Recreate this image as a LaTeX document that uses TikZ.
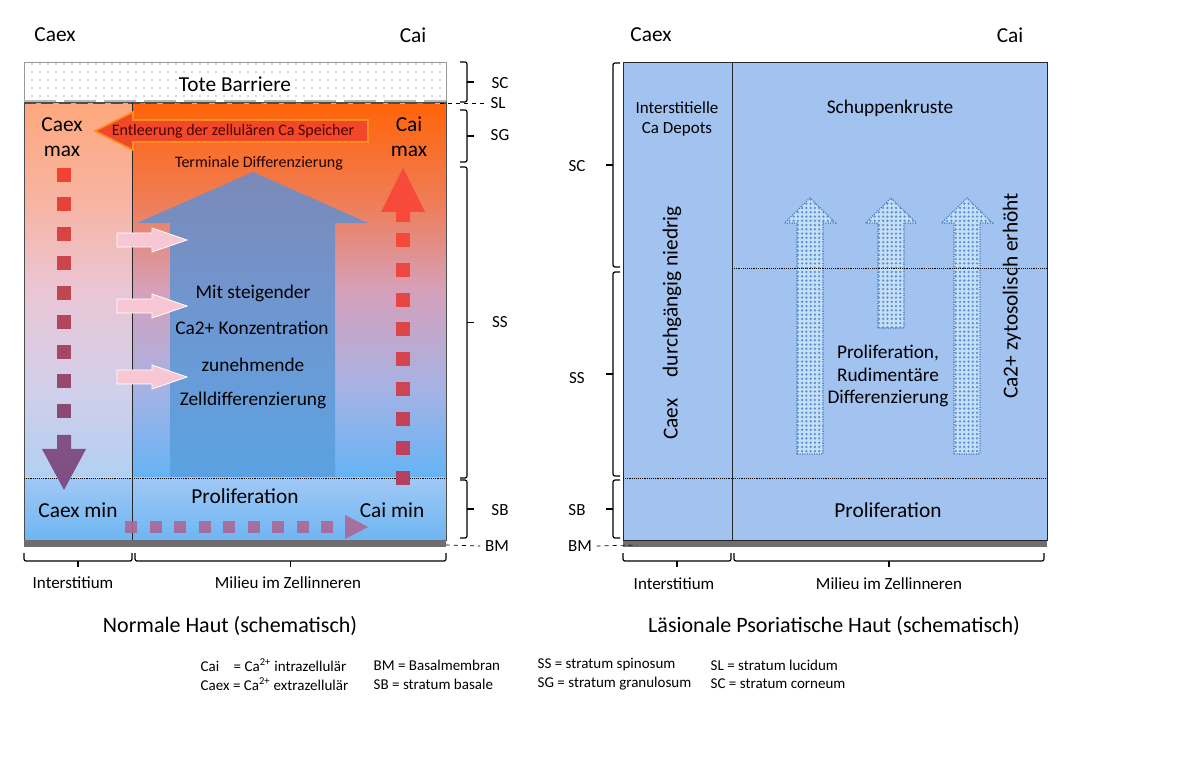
\documentclass[tikz,border=0pt]{standalone}
\usepackage{fontspec}
\setmainfont{Carlito}
\usetikzlibrary{patterns.meta, positioning, calc}

\definecolor{orangetop}{RGB}{255,100,8}
\definecolor{coral}{RGB}{240,124,84}
\definecolor{pinkmid}{RGB}{214,160,186}
\definecolor{lavender}{RGB}{166,178,228}
\definecolor{bluebot}{RGB}{100,180,246}
\definecolor{sbtop}{RGB}{160,200,246}
\definecolor{sbbot}{RGB}{110,182,242}
\definecolor{arrowtop}{RGB}{110,140,198}
\definecolor{arrowbot}{RGB}{90,160,224}
\definecolor{redarrow}{RGB}{240,72,40}
\definecolor{redrim}{RGB}{255,140,30}
\definecolor{sqtop}{RGB}{242,66,48}
\definecolor{sqbot}{RGB}{126,74,128}
\definecolor{rsqtop}{RGB}{248,74,58}
\definecolor{rsqbot}{RGB}{180,64,96}
\definecolor{mauve}{RGB}{170,104,152}
\definecolor{pinkarrow}{RGB}{247,200,212}
\definecolor{paleveil}{RGB}{255,236,240}
\definecolor{bmgray}{RGB}{112,108,114}
\definecolor{lesion}{RGB}{162,195,240}
\definecolor{dotfill}{RGB}{196,224,248}
\definecolor{dotblue}{RGB}{56,112,190}

\pgfdeclareverticalshading{skin}{100bp}{color(0bp)=(bluebot); color(25bp)=(bluebot);
  color(37bp)=(lavender); color(50bp)=(pinkmid); color(62bp)=(coral); color(75bp)=(orangetop); color(100bp)=(orangetop)}

\newcommand{\sizeA}{\fontsize{16}{19}\selectfont}
\newcommand{\sizeB}{\fontsize{14.5}{17}\selectfont}
\newcommand{\sizeC}{\fontsize{12.75}{15}\selectfont}
\newcommand{\sizeD}{\fontsize{12}{14}\selectfont}
\newcommand{\sizeE}{\fontsize{16.5}{19}\selectfont}
\newcommand{\sizeF}{\fontsize{11.25}{13}\selectfont}

\tikzset{
  bracket/.style={line width=0.9pt, rounded corners=1.5pt},
  pinkarr/.style={fill=pinkarrow, draw=white, line width=0.6pt},
  dotarrow/.style={fill=dotfill, draw=dotblue, densely dotted, line width=0.8pt,
    postaction={pattern={Dots[distance=3.2pt,radius=0.95pt]}, pattern color=dotblue!80}}
}

\begin{document}
\begin{tikzpicture}[x=0.75pt, y=-0.75pt]
    \useasboundingbox (0,0) rectangle (1183,784);

    % Normal skin: background layers
    \shade[shading=skin] (24,102) rectangle (446,478);
    \shade[top color=sbtop, bottom color=sbbot] (24,478) rectangle (446,540);
    \fill[paleveil, opacity=0.5] (24,102) rectangle (132,478);

    % Dead barrier on top
    \fill[white] (24,62) rectangle (446,102);
    \fill[pattern={Dots[distance=6pt,radius=0.7pt]}, pattern color=gray!60] (24,62) rectangle (446,102);
    \draw[gray!80] (24,62) rectangle (446,102);
    \node[font=\sizeA, fill=white, inner sep=1pt] (tote) at (235,84) {Tote Barriere};
    \draw[gray!55, line width=3pt, dash pattern=on 24pt off 6pt] (24,102) -- (446,102);
    \draw[black!70, line width=0.5pt, dash pattern=on 9pt off 4pt] (24,103) -- (446,103);

    % Outlines and layer border
    \draw[black!70, line width=0.6pt] (24,102) rectangle (446,540);
    \draw[black!85, line width=0.6pt] (132,102) -- (132,540) -- (24,540);
    \draw[densely dotted] (24,478) -- (446,478);

    % Big differentiation arrow
    \shade[top color=arrowtop, bottom color=arrowbot, opacity=0.9] (170,477) -- (170,223) -- (137,223) -- (253,172) -- (368,223) -- (335,223) -- (335,477) -- cycle;
    \node[font=\sizeB] (mit) at (253,293) {Mit steigender};
    \node[font=\sizeB] (konz) at (252,328) {Ca2+ Konzentration};
    \node[font=\sizeB] (zun) at (253,365) {zunehmende};
    \node[font=\sizeB] (zell) at (253,400) {Zelldifferenzierung};

    % Emptying of the calcium stores
    \draw[draw=redrim, fill=redarrow, line width=1.2pt] (368,120) -- (133,120) -- (133,112) -- (95,131) -- (133,150) -- (133,142) -- (368,142) -- cycle;
    \node[font=\sizeD, text=black!70!red] (entl) at (233,131) {Entleerung der zellulären Ca Speicher};
    \node[font=\sizeD, text=black!85!red] (term) at (259,163) {Terminale Differenzierung};

    \node[font=\sizeA, align=center] (caexmax) at (62,137) {Caex\\max};
    \node[font=\sizeA, align=center] (caimax) at (409,137) {Cai\\max};

    % Caex falls towards the basal layer
    \foreach \i in {0,...,8} {
        \pgfmathtruncatemacro\p{\i*11}
        \fill[sqbot!\p!sqtop] (57,175+\i*29.5-7) rectangle (71,175+\i*29.5+7);
    }
    \fill[sqbot, opacity=0.95] (57,435) -- (71,435) -- (71,449) -- (86,449) -- (64,490) -- (42,449) -- (57,449) -- cycle;

    % Cai rises towards the top
    \foreach \i in {0,...,8} {
        \pgfmathtruncatemacro\p{\i*12}
        \fill[rsqtop!\p!rsqbot] (396,478-\i*29.7-7) rectangle (410,478-\i*29.7+7);
    }
    \fill[rsqtop] (396,222) -- (396,212) -- (381,212) -- (403,168) -- (425,212) -- (410,212) -- (410,222) -- cycle;

    % Transport along the basal layer
    \foreach \i in {0,...,8}
        \fill[mauve, opacity=0.9] (131+\i*24.5-6,521) rectangle (131+\i*24.5+6,533);
    \fill[mauve, opacity=0.9] (345,515) -- (368,527) -- (345,539) -- cycle;

    % Calcium entering the cells
    \foreach \y in {240,306,377}
        \draw[pinkarr] (117,\y-7) -- (152,\y-7) -- (152,\y-12) -- (187,\y) -- (152,\y+12) -- (152,\y+7) -- (117,\y+7) -- cycle;

    \node[font=\sizeA] (prolif) at (245,496) {Proliferation};
    \node[font=\sizeA] (caexmin) at (78,510) {Caex min};
    \node[font=\sizeA] (caimin) at (392,510) {Cai min};

    % Basement membrane
    \fill[bmgray] (24,540) rectangle (446,547);

    % Layer brackets of the normal skin
    \foreach \ya/\yb/\lab/\ly in {62/102/SC/83, 110/162/SG/135, 167/478/SS/322, 480/538/SB/510} {
        \draw[bracket] (460,\ya) -- (467,\ya) -- (467,\yb) -- (460,\yb);
        \draw[bracket] (467,{(\ya+\yb)/2}) -- (474,{(\ya+\yb)/2});
        \node[font=\sizeC] (l\lab) at (500,\ly) {\lab};
    }
    \node[font=\sizeC] (lSL) at (498,103) {SL};
    \coordinate (slstart) at (440,103);
    \draw[dashed, line width=0.5pt] (slstart) -- (lSL.west);
    \node[font=\sizeC] (lBM) at (497,546) {BM};
    \coordinate (bmstart) at (446,545);
    \draw[dashed, line width=0.5pt] (bmstart) -- (lBM.west);

    % Compartments below
    \foreach \xa/\xb/\lx/\lab/\nm in {24/132/73/Interstitium/lint, 135/446/288/Milieu im Zellinneren/lmil} {
        \draw[bracket] (\xa,553) -- (\xa,561) -- (\xb,561) -- (\xb,553);
        \draw[bracket] ({(\xa+\xb)/2},561) -- ({(\xa+\xb)/2},567);
        \node[font=\sizeC] (\nm) at (\lx,583) {\lab};
    }

    \node[font=\sizeA] (caexL) at (55,35) {Caex};
    \node[font=\sizeA] (caiL) at (413,35) {Cai};
    \node[font=\sizeE] (capL) at (230,626) {Normale Haut (schematisch)};

    % Lesional psoriatic skin
    \fill[bmgray] (623,540) rectangle (1047,547);
    \fill[lesion] (623,62) rectangle (1047,540);
    \foreach \cx/\b in {810/454, 891/328, 967/454}
        \draw[dotarrow] (\cx-13,\b) -- (\cx-13,223) -- (\cx-25.5,223) -- (\cx,198) -- (\cx+25.5,223) -- (\cx+13,223) -- (\cx+13,\b) -- cycle;
    \draw[black!85, line width=0.7pt] (623,62) rectangle (1047,540);
    \draw[black!85, line width=0.7pt] (732,62) -- (732,540);
    \draw[densely dotted] (732,268) -- (1047,268);
    \draw[densely dotted] (623,478) -- (1047,478);

    \node[font=\sizeC, align=center] (depot) at (677,119) {Interstitielle\\Ca Depots};
    \node[font=\sizeB] (schupp) at (890,108) {Schuppenkruste};
    \node[font=\sizeA, rotate=90] (caexlow) at (672,323) {Caex\quad durchgängig niedrig};
    \node[font=\sizeA, rotate=90] (caihigh) at (1012,296) {Ca2+ zytosolisch erhöht};
    \node[font=\sizeB, align=center] (rudi) at (888,376) {Proliferation,\\Rudimentäre\\Differenzierung};
    \node[font=\sizeA] (prolifR) at (888,510) {Proliferation};

    % Layer brackets of the lesional skin
    \foreach \ya/\yb/\lab/\ly in {63/267/SC/166, 272/476/SS/378, 480/538/SB/510} {
        \draw[bracket] (620,\ya) -- (613,\ya) -- (613,\yb) -- (620,\yb);
        \draw[bracket] (613,{(\ya+\yb)/2}) -- (606,{(\ya+\yb)/2});
        \node[font=\sizeC] (r\lab) at (577,\ly) {\lab};
    }
    \node[font=\sizeC] (rBM) at (580,546) {BM};
    \coordinate (rbmend) at (637,545);
    \draw[dashed, line width=0.5pt] (rBM.east) -- (rbmend);

    \foreach \xa/\xb/\lx/\lab/\nm in {623/731/674/Interstitium/rint, 734/1044/889/Milieu im Zellinneren/rmil} {
        \draw[bracket] (\xa,553) -- (\xa,561) -- (\xb,561) -- (\xb,553);
        \draw[bracket] ({(\xa+\xb)/2},561) -- ({(\xa+\xb)/2},567);
        \node[font=\sizeC] (\nm) at (\lx,584) {\lab};
    }

    \node[font=\sizeA] (caexR) at (651,35) {Caex};
    \node[font=\sizeA] (caiR) at (1010,35) {Cai};
    \node[font=\sizeE] (capR) at (834,626) {Läsionale Psoriatische Haut (schematisch)};

    % Legend
    \node[font=\sizeF, anchor=west] (leg1) at (196,665) {\makebox[2.2em][l]{Cai}= Ca\textsuperscript{2+} intrazellulär};
    \node[font=\sizeF, anchor=west] (leg2) at (196,684) {Caex = Ca\textsuperscript{2+} extrazellulär};
    \node[font=\sizeF, anchor=west] (leg3) at (369,665) {BM = Basalmembran};
    \node[font=\sizeF, anchor=west] (leg4) at (369,684) {SB = stratum basale};
    \node[font=\sizeF, anchor=west] (leg5) at (533,665) {SS = stratum spinosum};
    \node[font=\sizeF, anchor=west] (leg6) at (533,684) {SG = stratum granulosum};
    \node[font=\sizeF, anchor=west] (leg7) at (706,665) {SL = stratum lucidum};
    \node[font=\sizeF, anchor=west] (leg8) at (706,684) {SC = stratum corneum};
\end{tikzpicture}
\end{document}
